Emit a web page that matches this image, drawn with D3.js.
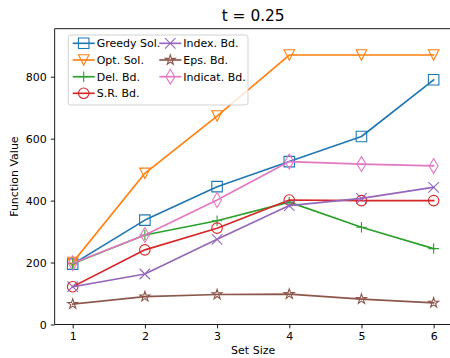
<!DOCTYPE html>
<html><head><meta charset="utf-8">
<script src="https://cdn.jsdelivr.net/npm/d3@7"></script>
<style>html,body{margin:0;padding:0;background:#fff;} svg{display:block;font-family:"DejaVu Sans",sans-serif;}</style>
</head><body>
<svg id="c" width="450" height="358"></svg>
<script>
const setSizes = [1, 2, 3, 4, 5, 6];
const xTicks = [1, 2, 3, 4, 5, 6];
const yTicks = [0, 200, 400, 600, 800];
const greedySol = [195, 337, 445, 526, 607, 790];
const optSol = [200, 488, 673, 870, 870, 870];
const delBd = [196, 289, 335, 395, 314, 245];
const srBd = [122, 241, 311, 402, 400, 400];
const indexBd = [122, 163, 275, 384, 407, 443];
const epsBd = [66, 90, 97, 98, 82, 70];
const indicatBd = [198, 289, 402, 526, 518, 512];
const seriesNames = ["Greedy Sol.", "Opt. Sol.", "Del. Bd.", "S.R. Bd.", "Index. Bd.", "Eps. Bd.", "Indicat. Bd."];
const seriesColors = ["#1f77b4", "#ff7f0e", "#2ca02c", "#d62728", "#9467bd", "#8c564b", "#e377c2"];
const seriesMarkers = ["square", "tri_down", "plus", "circle", "x", "star", "thin_diamond"];
const seriesValues = [greedySol, optSol, delBd, srBd, indexBd, epsBd, indicatBd];

const svg = d3.select("#c");
const L = 54.65, R = 451.7, T = 28.7, B = 324.5;
const x = d3.scaleLinear().domain([0.75, 6.25]).range([L, R]);
const y = d3.scaleLinear().domain([0, 955]).range([B, T]);
const M = 10.5;

function markerPath(type) {
  const h = M / 2;
  const p = d3.path();
  if (type === "square") { p.rect(-h, -h, M, M); }
  else if (type === "circle") { p.moveTo(h, 0); p.arc(0, 0, h, 0, 2 * Math.PI); p.closePath(); }
  else if (type === "tri_down") { p.moveTo(0, h); p.lineTo(-h, -h); p.lineTo(h, -h); p.closePath(); }
  else if (type === "plus") { p.moveTo(-h, 0); p.lineTo(h, 0); p.moveTo(0, -h); p.lineTo(0, h); }
  else if (type === "x") { p.moveTo(-h, -h); p.lineTo(h, h); p.moveTo(-h, h); p.lineTo(h, -h); }
  else if (type === "star") {
    const r1 = h, r2 = h * 0.381966;
    for (let i = 0; i < 10; i++) {
      const r = i % 2 === 0 ? r1 : r2;
      const a = -Math.PI / 2 + i * Math.PI / 5;
      const px = r * Math.cos(a), py = r * Math.sin(a);
      if (i === 0) p.moveTo(px, py); else p.lineTo(px, py);
    }
    p.closePath();
  }
  else if (type === "thin_diamond") {
    const hh = M * Math.SQRT2 / 2, hw = hh * 0.6;
    p.moveTo(0, -hh); p.lineTo(hw, 0); p.lineTo(0, hh); p.lineTo(-hw, 0); p.closePath();
  }
  return p.toString();
}

svg.append("defs").append("clipPath").attr("id", "clip")
  .append("rect").attr("x", L).attr("y", T).attr("width", R - L).attr("height", B - T);

const plot = svg.append("g").attr("clip-path", "url(#clip)");
const line = d3.line().x((d, i) => x(setSizes[i])).y(d => y(d));
seriesValues.forEach((vals, si) => {
  const g = plot.append("g");
  g.append("path").attr("d", line(vals)).attr("fill", "none")
    .attr("stroke", seriesColors[si]).attr("stroke-width", 1.65).attr("stroke-linejoin", "round").attr("stroke-linecap", "square");
  g.selectAll("path.m").data(vals).enter().append("path").attr("class", "m")
    .attr("d", markerPath(seriesMarkers[si]))
    .attr("transform", (d, i) => `translate(${x(setSizes[i])},${y(d)})`)
    .attr("fill", "none").attr("stroke", seriesColors[si]).attr("stroke-width", 1.1);
});

// axes
const xAxis = d3.axisBottom(x).tickValues(xTicks).tickFormat(d3.format("d")).tickSize(3.9).tickPadding(3.9);
const yAxis = d3.axisLeft(y).tickValues(yTicks).tickFormat(d3.format("d")).tickSize(3.9).tickPadding(3.9);
const gx = svg.append("g").attr("transform", `translate(0,${B})`).call(xAxis);
const gy = svg.append("g").attr("transform", `translate(${L},0)`).call(yAxis);
[gx, gy].forEach(g => {
  g.select(".domain").remove();
  g.selectAll("line").attr("stroke", "#000").attr("stroke-width", 0.9);
  g.selectAll("text").attr("font-size", 11).attr("fill", "#000").attr("font-family", "DejaVu Sans");
});
// spines
svg.append("line").attr("x1", L).attr("x2", L).attr("y1", T).attr("y2", B).attr("stroke", "#000").attr("stroke-width", 0.9);
svg.append("line").attr("x1", L).attr("x2", 460).attr("y1", B).attr("y2", B).attr("stroke", "#000").attr("stroke-width", 0.9);
svg.append("line").attr("x1", L).attr("x2", 460).attr("y1", T).attr("y2", T).attr("stroke", "#000").attr("stroke-width", 0.9);

// labels
svg.append("text").attr("x", (L + R) / 2).attr("y", 354).attr("text-anchor", "middle").attr("font-size", 11).text("Set Size");
svg.append("text").attr("transform", `translate(17.5,${(T + B) / 2}) rotate(-90)`).attr("text-anchor", "middle").attr("font-size", 11).text("Function Value");
svg.append("text").attr("x", (L + R) / 2).attr("y", 21).attr("text-anchor", "middle").attr("font-size", 15.4).text("t = 0.25");

// legend
const lg = svg.append("g");
lg.append("rect").attr("x", 68.3).attr("y", 35).attr("width", 179.7).attr("height", 70).attr("rx", 2.5)
  .attr("fill", "#fff").attr("fill-opacity", 0.8).attr("stroke", "#ccc").attr("stroke-width", 0.9);
const colX = [72.7, 159.3];
const rowY = [43.3, 60, 76.7, 93.3];
seriesNames.forEach((name, i) => {
  const c = i < 4 ? 0 : 1, r = i < 4 ? i : i - 4;
  const x0 = colX[c], yy = rowY[r];
  lg.append("line").attr("x1", x0).attr("x2", x0 + 22).attr("y1", yy).attr("y2", yy)
    .attr("stroke", seriesColors[i]).attr("stroke-width", 1.65);
  lg.append("path").attr("d", markerPath(seriesMarkers[i])).attr("transform", `translate(${x0 + 11},${yy})`)
    .attr("fill", "none").attr("stroke", seriesColors[i]).attr("stroke-width", 1.1);
  lg.append("text").attr("x", x0 + 24).attr("y", yy + 4).attr("font-size", 11).text(name);
});
</script>
</body></html>
